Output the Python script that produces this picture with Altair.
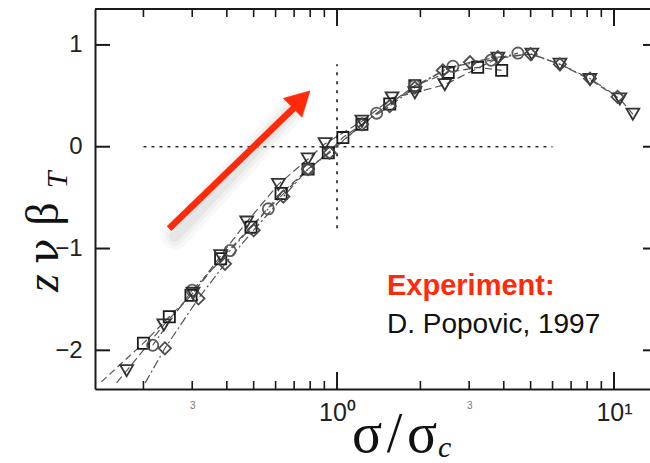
import altair as alt
import pandas as pd

# ---------------- data ----------------
series = ["squares", "circles", "triangles", "diamonds"]

sq_x = [0.200, 0.248, 0.297, 0.380, 0.489, 0.628, 0.786, 0.930, 1.05, 1.23, 1.55, 1.91, 2.52, 3.22, 3.93]
sq_y = [-1.93, -1.67, -1.46, -1.10, -0.79, -0.46, -0.22, -0.06, 0.09, 0.22, 0.42, 0.60, 0.73, 0.78, 0.75]

ci_x = [0.216, 0.300, 0.411, 0.565, 0.786, 1.39, 1.91, 2.62, 3.60, 4.50]
ci_y = [-1.95, -1.41, -1.02, -0.61, -0.22, 0.33, 0.60, 0.79, 0.85, 0.92]

tr_x = [0.174, 0.237, 0.302, 0.380, 0.472, 0.614, 0.786, 0.905, 1.23, 1.58, 1.91, 2.45, 3.81, 5.05, 6.38, 8.19, 10.5, 11.7]
tr_y = [-2.20, -1.75, -1.44, -1.07, -0.74, -0.37, -0.12, 0.03, 0.25, 0.48, 0.53, 0.61, 0.87, 0.91, 0.81, 0.66, 0.47, 0.32]

di_x = [0.239, 0.316, 0.394, 0.500, 0.640, 0.786, 0.940, 1.23, 1.55, 1.91, 2.41, 3.02, 3.81, 5.00, 6.38, 8.19, 10.3]
di_y = [-1.98, -1.49, -1.15, -0.82, -0.49, -0.22, -0.06, 0.22, 0.40, 0.58, 0.75, 0.83, 0.88, 0.91, 0.81, 0.67, 0.49]

# lower-left ends of the dashed guide lines (where they leave the frame)
ext_x = {"squares": [0.141], "circles": [], "triangles": [0.160], "diamonds": [0.203]}
ext_y = {"squares": [-2.31], "circles": [], "triangles": [-2.32], "diamonds": [-2.32]}

# dotted cross-hair
h_x = [0.2, 6.0]
h_y = [0.0]
v_x = [1.0]
v_y = [-0.80, 0.81]

# red arrow (tail, shaft end, tip)
arrow_x = [0.2474, 0.717]
arrow_y = [-0.804, 0.412]
tip_x = [0.799]
tip_y = [0.549]

# annotation
note_x = [1.515]
note_y = [-1.46, -1.83]
note_txt = ["Experiment:", "D. Popovic, 1997"]

# axis ticks
x_minor = [0.2, 0.3, 0.4, 0.5, 0.6, 0.7, 0.8, 0.9, 2, 3, 4, 5, 6, 7, 8, 9]
x_major = [1, 10]
y_ticks = [-2, -1, 0, 1]
x_labels = [0.3, 1, 3, 10]

# ---------------- styling ----------------
W, H = 555, 380
XDOM = [0.1337, 13.49]
YDOM = [-2.38, 1.353]
FRAME = "#1a1a1a"
RED = "#ff2a0a"
INK = "#111111"

xscale = alt.Scale(type="log", domain=XDOM, nice=False)
yscale = alt.Scale(domain=YDOM, nice=False, zero=False)

xaxis = alt.Axis(
    values=x_labels,
    labelExpr="datum.value == 1 ? '10⁰' : (datum.value == 10 ? '10¹' : '3')",
    ticks=False, grid=False, title=None,
    domainColor=FRAME, domainWidth=2,
    labelFont="Liberation Sans",
    labelFontSize=alt.condition("datum.value == 1 || datum.value == 10", alt.value(25), alt.value(10)),
    labelColor=alt.condition("datum.value == 1 || datum.value == 10", alt.value("#222222"), alt.value("#777777")),
    labelPadding=11, labelBaseline="top", labelOverlap=False, labelFlush=False,
)
yaxis = alt.Axis(
    values=y_ticks, ticks=False, grid=False, title=None,
    domainColor=FRAME, domainWidth=2,
    labelFont="Liberation Sans", labelFontSize=24, labelColor="#222222",
    labelPadding=13,
)


def X(f, **kw):
    return alt.X(f, type="quantitative", scale=xscale, axis=xaxis, **kw)


def Y(f, **kw):
    return alt.Y(f, type="quantitative", scale=yscale, axis=yaxis, **kw)


data = {
    "squares": (sq_x, sq_y),
    "circles": (ci_x, ci_y),
    "triangles": (tr_x, tr_y),
    "diamonds": (di_x, di_y),
}
shapes = {"squares": "square", "circles": "circle", "triangles": "triangle-down", "diamonds": "diamond"}
sizes = {"squares": 125, "circles": 125, "triangles": 165, "diamonds": 150}
strokes = {"squares": "#111111", "circles": "#555555", "triangles": "#2a2a2a", "diamonds": "#444444"}
dashes = {"squares": [7, 4], "circles": [6, 3, 2, 3], "triangles": [8, 4], "diamonds": [9, 3, 2, 3]}

layers = []

# cross-hair
layers.append(
    alt.Chart(pd.DataFrame({"x": [h_x[0]], "x2": [h_x[1]], "y": h_y}))
    .mark_rule(color="#333333", strokeWidth=1.6, strokeDash=[3, 5])
    .encode(x=X("x"), x2="x2", y=Y("y"))
)
layers.append(
    alt.Chart(pd.DataFrame({"x": v_x, "y": [v_y[0]], "y2": [v_y[1]]}))
    .mark_rule(color="#333333", strokeWidth=1.8, strokeDash=[3, 6])
    .encode(x=X("x"), y=Y("y"), y2="y2")
)

# dashed guide lines
for s in series:
    xs, ys = data[s]
    df = pd.DataFrame({"x": ext_x[s] + xs, "y": ext_y[s] + ys})
    layers.append(
        alt.Chart(df)
        .mark_line(color="#555555", strokeWidth=1.2, strokeDash=dashes[s], clip=True)
        .encode(x=X("x"), y=Y("y"), order="x:Q")
    )

# markers
for s in series:
    xs, ys = data[s]
    df = pd.DataFrame({"x": xs, "y": ys})
    layers.append(
        alt.Chart(df)
        .mark_point(shape=shapes[s], filled=False, size=sizes[s], stroke=strokes[s],
                    strokeWidth=1.8, opacity=0.95)
        .encode(x=X("x"), y=Y("y"))
    )

# arrow shadow (soft)
arrow_df = pd.DataFrame({"x": [arrow_x[0]], "x2": [arrow_x[1]], "y": [arrow_y[0]], "y2": [arrow_y[1]]})
for w, op in [(26, 0.05), (18, 0.06), (11, 0.08)]:
    layers.append(
        alt.Chart(arrow_df)
        .mark_rule(color="#777777", strokeWidth=w, opacity=op, strokeCap="round", xOffset=6, yOffset=8)
        .encode(x=X("x"), x2="x2", y=Y("y"), y2="y2")
    )
# arrow
layers.append(
    alt.Chart(arrow_df)
    .mark_rule(color=RED, strokeWidth=6.5, strokeCap="butt")
    .encode(x=X("x"), x2="x2", y=Y("y"), y2="y2")
)
layers.append(
    alt.Chart(pd.DataFrame({"x": tip_x, "y": tip_y}))
    .mark_point(shape="M0,0L-1,1.83L1,1.83Z", filled=True, fill=RED, stroke=RED, strokeWidth=0.5,
                size=707, angle=45.6, opacity=1)
    .encode(x=X("x"), y=Y("y"))
)

# annotation
note_df = pd.DataFrame({"x": [note_x[0], note_x[0]], "y": note_y, "t": note_txt})
layers.append(
    alt.Chart(note_df.iloc[[0]])
    .mark_text(align="left", baseline="alphabetic", font="Liberation Sans", fontSize=29,
               fontWeight="bold", color=RED)
    .encode(x=X("x"), y=Y("y"), text="t:N")
)
layers.append(
    alt.Chart(note_df.iloc[[1]])
    .mark_text(align="left", baseline="alphabetic", font="Liberation Sans", fontSize=28,
               color=INK)
    .encode(x=X("x"), y=Y("y"), text="t:N")
)

# inward ticks
minor_df = pd.DataFrame({"t": x_minor})
major_df = pd.DataFrame({"t": x_major})
ytick_df = pd.DataFrame({"t": y_ticks})
tick_style = dict(color=FRAME, strokeWidth=1.6)
layers += [
    alt.Chart(minor_df).mark_rule(**tick_style).encode(x=X("t"), y=alt.value(H), y2=alt.value(H - 8)),
    alt.Chart(minor_df).mark_rule(**tick_style).encode(x=X("t"), y=alt.value(0), y2=alt.value(8)),
    alt.Chart(major_df).mark_rule(color=FRAME, strokeWidth=2).encode(x=X("t"), y=alt.value(H), y2=alt.value(H - 17)),
    alt.Chart(major_df).mark_rule(color=FRAME, strokeWidth=2).encode(x=X("t"), y=alt.value(0), y2=alt.value(17)),
    alt.Chart(ytick_df).mark_rule(color=FRAME, strokeWidth=2).encode(y=Y("t"), x=alt.value(0), x2=alt.value(15)),
    alt.Chart(ytick_df).mark_rule(color=FRAME, strokeWidth=2).encode(y=Y("t"), x=alt.value(W - 7), x2=alt.value(W)),
]
# top frame line
layers.append(
    alt.Chart(pd.DataFrame({"a": [0]}))
    .mark_rule(color=FRAME, strokeWidth=2)
    .encode(x=alt.value(0), x2=alt.value(W), y=alt.value(0))
)

# axis titles (serif, with subscripts)
title_df = pd.DataFrame({"a": [0]})


def ttext(txt, x, y, size, italic=False, angle=0, align="center", font="Liberation Serif"):
    kw = dict(text=txt, align=align, baseline="alphabetic", font=font,
              fontSize=size, color=INK)
    if italic:
        kw["fontStyle"] = "italic"
    if angle:
        kw["angle"] = angle
    return alt.Chart(title_df).mark_text(**kw).encode(x=alt.value(x), y=alt.value(y))


layers += [
    ttext("z", -37, 274, 46, italic=True, angle=270),
    ttext("ν", -37, 242, 42, angle=270, font="DejaVu Serif"),
    ttext("β", -37, 205, 46, angle=270),
    ttext("T", -28, 171, 30, italic=True, angle=270),
    ttext("σ\u200a/\u200aσ", 257, 443, 56, align="left"),
    ttext("c", 343, 448, 30, italic=True, align="left"),
]

chart = (
    alt.layer(*layers)
    .properties(width=W, height=H,
                padding={"left": 95, "top": 9, "right": 0, "bottom": 74},
                autosize=alt.AutoSizeParams(type="none"))
    .configure_view(stroke=None)
)

chart.save("out.html", embed_options={"renderer": "svg", "actions": False})
